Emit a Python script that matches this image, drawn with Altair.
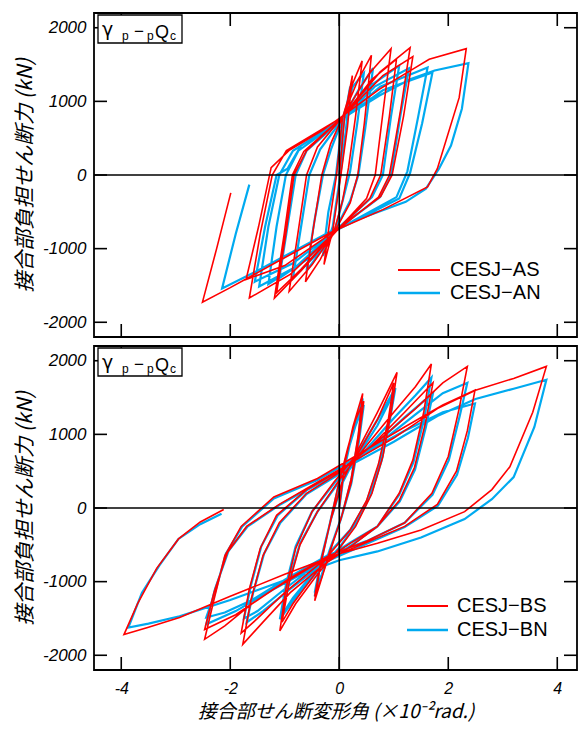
import altair as alt
import pandas as pd

# ---------------- data ----------------
X_TICKS = [-4, -2, 0, 2, 4]
Y_TICKS = [-2000, -1000, 0, 1000, 2000]

LEGEND_TOP = ["CESJ\u2212AS", "CESJ\u2212AN"]
LEGEND_BOTTOM = ["CESJ\u2212BS", "CESJ\u2212BN"]

# top panel, red (CESJ-AS)
AS_x = [0, 0.10, 0.24, 0.15, 0.03, -0.12, -0.28, -0.17, -0.05, 0.06, 0.25, 0.42,
        0.30, 0.17, 0.06, -0.10, -0.35, -0.62, -0.47, -0.32, -0.16, 0.06, 0.35, 0.59,
        0.46, 0.34, 0.20, -0.10, -0.50, -0.92, -0.76, -0.60, -0.40, 0.06, 0.55, 0.95,
        0.81, 0.66, 0.50, -0.10, -0.70, -1.19, -1.01, -0.86, -0.65, 0.06, 0.60, 1.05,
        0.92, 0.76, 0.56, -0.10, -0.70, -1.15, -0.98, -0.83, -0.60, 0.06, 0.75, 1.30,
        1.13, 0.92, 0.72, -0.10, -0.90, -1.65, -1.45, -1.23, -0.97, 0.06, 0.80, 1.35,
        1.18, 0.97, 0.76, -0.12, -1.00, -1.71, -1.48, -1.25, -0.91, -0.32, 0.07, 0.74,
        1.35, 1.65, 2.33, 2.20, 1.80, 1.62, 0.80, -0.13, -1.23, -2.00, -2.51, -2.25, -1.99]
AS_F = [0, 800, 1350, 650, 0, -760, -1216, -600, 0, 780, 1250, 1550,
        800, 100, -350, -780, -1150, -1450, -700, 0, 420, 790, 1300, 1626,
        700, 0, -380, -790, -1220, -1581, -800, 0, 380, 790, 1380, 1716,
        900, 0, -320, -800, -1300, -1671, -800, 0, 320, 790, 1300, 1572,
        800, 0, -320, -790, -1280, -1600, -800, 0, 330, 790, 1400, 1730,
        900, 0, -300, -790, -1350, -1671, -800, 0, 330, 790, 1350, 1608,
        800, 0, -290, -780, -1230, -1420, -700, 100, 340, 600, 806, 1166,
        1437, 1572, 1716, 1050, 85, -162, -470, -770, -1216, -1530, -1726, -1000, -243]

# top panel, blue (CESJ-AN)
AN_x = [0, 0.08, 0.20, 0.12, 0.02, -0.12, -0.30, -0.20, -0.06, 0.06, 0.25, 0.45,
        0.33, 0.20, 0.08, -0.08, -0.35, -0.60, -0.45, -0.30, -0.15, 0.06, 0.35, 0.62,
        0.48, 0.35, 0.20, -0.08, -0.45, -0.85, -0.70, -0.55, -0.35, 0.06, 0.55, 1.10,
        0.95, 0.80, 0.60, -0.08, -0.60, -1.10, -0.95, -0.80, -0.60, 0.06, 0.65, 1.28,
        1.12, 0.95, 0.75, -0.08, -0.70, -1.30, -1.15, -0.98, -0.75, 0.06, 0.75, 1.62,
        1.45, 1.25, 1.05, -0.08, -0.80, -1.47, -1.30, -1.10, -0.85, 0.06, 0.80, 1.71,
        1.52, 1.30, 1.10, -0.08, -0.85, -1.55, -1.36, -1.15, -0.95, -0.70, -0.24, 0.06,
        0.73, 1.30, 1.75, 2.37, 2.25, 2.05, 1.83, 1.59, 1.22, 0.50, -0.06, -0.80,
        -1.50, -2.15, -1.90, -1.65]
AN_F = [0, 700, 1200, 600, 0, -700, -1100, -500, 0, 760, 1200, 1380,
        700, 50, -300, -750, -1050, -1300, -600, 0, 350, 760, 1150, 1450,
        650, 0, -350, -750, -1100, -1400, -700, 0, 350, 760, 1200, 1486,
        800, 0, -300, -760, -1150, -1401, -700, 0, 330, 760, 1200, 1450,
        800, 0, -300, -760, -1200, -1480, -700, 0, 330, 760, 1200, 1459,
        800, 50, -300, -760, -1250, -1514, -700, 0, 330, 760, 1150, 1392,
        700, 30, -320, -760, -1200, -1450, -700, 0, 85, 400, 620, 770,
        1077, 1300, 1420, 1518, 900, 400, 85, -185, -365, -560, -725, -1020,
        -1300, -1540, -800, -131]

# bottom panel, red (CESJ-BS)
BS_x = [0, 0.10, 0.25, 0.43,
        0.35, 0.22, 0.05, -0.15, -0.30, -0.45,
        -0.35, -0.20, -0.02, 0.15, 0.30, 0.45,
        0.36, 0.22, 0.03, -0.18, -0.32, -0.45,
        -0.33, -0.15, 0.05, 0.35, 0.70, 1.06,
        0.95, 0.80, 0.60, 0.30, 0.00, -0.40, -0.80, -1.09,
        -0.98, -0.80, -0.50, -0.10, 0.35, 0.70, 1.00,
        0.90, 0.72, 0.50, 0.20, -0.15, -0.55, -0.85, -1.05,
        -0.93, -0.72, -0.40, 0.00, 0.50, 1.00, 1.40, 1.69,
        1.55, 1.35, 1.10, 0.70, 0.25, -0.30, -0.90, -1.40, -1.77,
        -1.62, -1.40, -1.10, -0.60, 0.00, 0.60, 1.20, 1.72,
        1.58, 1.38, 1.10, 0.70, 0.20, -0.40, -1.00, -1.50, -1.80,
        -1.65, -1.45, -1.15, -0.60, 0.00, 0.70, 1.40, 1.90, 2.35,
        2.20, 2.00, 1.70, 1.20, 0.50, -0.20, -0.90, -1.60, -2.10, -2.47,
        -2.30, -2.10, -1.80, -1.20, -0.40, 0.40, 1.20, 1.90, 2.49,
        2.35, 2.15, 1.80, 1.20, 0.40, -0.40, -1.20, -1.90, -2.47,
        -2.30, -2.05, -1.70, -1.10, -0.40, 0.30, 1.00, 1.80, 2.50, 3.20, 3.80,
        3.55, 3.13, 2.80, 2.30, 1.50, 0.70, 0.00, -1.00, -2.00, -2.93, -3.50, -3.95,
        -3.70, -3.35, -2.95, -2.55, -2.12]
BS_F = [0, 600, 1100, 1555,
        1000, 400, -100, -550, -900, -1260,
        -800, -300, 300, 800, 1200, 1450,
        950, 350, -150, -600, -950, -1200,
        -700, -150, 350, 800, 1300, 1841,
        1300, 700, 200, -250, -550, -900, -1300, -1669,
        -1100, -550, -50, 350, 750, 1200, 1700,
        1200, 600, 100, -300, -600, -1000, -1300, -1550,
        -1050, -500, -50, 380, 850, 1300, 1650, 1956,
        1300, 650, 200, -250, -500, -780, -1150, -1550, -1851,
        -1250, -650, -200, 200, 480, 850, 1300, 1700,
        1150, 550, 100, -250, -480, -780, -1150, -1500, -1700,
        -1100, -550, -100, 250, 500, 900, 1350, 1700, 1923,
        1350, 700, 200, -200, -450, -650, -950, -1300, -1600, -1783,
        -1250, -650, -250, 150, 400, 750, 1100, 1400, 1600,
        1050, 500, 50, -250, -500, -750, -1100, -1450, -1650,
        -1150, -600, -250, 50, 350, 650, 950, 1350, 1600, 1760, 1923,
        1300, 560, 250, -50, -300, -480, -620, -900, -1200, -1487, -1620, -1719,
        -1300, -820, -420, -190, -20]

# bottom panel, blue (CESJ-BN)
BN_x = [0, 0.10, 0.25, 0.43,
        0.35, 0.22, 0.05, -0.15, -0.30, -0.45,
        -0.35, -0.20, -0.02, 0.15, 0.30, 0.45,
        0.36, 0.22, 0.03, -0.18, -0.32, -0.45,
        -0.33, -0.15, 0.05, 0.35, 0.70, 1.03,
        0.93, 0.78, 0.58, 0.28, 0.00, -0.40, -0.80, -1.09,
        -0.98, -0.80, -0.50, -0.10, 0.35, 0.70, 1.00,
        0.90, 0.72, 0.50, 0.20, -0.15, -0.55, -0.85, -1.05,
        -0.93, -0.72, -0.40, 0.00, 0.50, 1.00, 1.40, 1.69,
        1.56, 1.36, 1.10, 0.70, 0.25, -0.30, -0.90, -1.40, -1.70,
        -1.58, -1.38, -1.08, -0.60, 0.00, 0.60, 1.20, 1.72,
        1.59, 1.39, 1.11, 0.70, 0.20, -0.40, -1.00, -1.50, -1.75,
        -1.62, -1.43, -1.13, -0.60, 0.00, 0.70, 1.40, 1.90, 2.35,
        2.21, 2.01, 1.71, 1.20, 0.50, -0.20, -0.90, -1.60, -2.10, -2.44,
        -2.28, -2.08, -1.78, -1.20, -0.40, 0.40, 1.20, 1.90, 2.49,
        2.36, 2.16, 1.81, 1.20, 0.40, -0.40, -1.20, -1.90, -2.44,
        -2.28, -2.03, -1.68, -1.10, -0.40, 0.30, 1.00, 1.80, 2.50, 3.20, 3.80,
        3.58, 3.20, 2.80, 2.30, 1.50, 0.70, 0.00, -1.00, -2.00, -2.93, -3.50, -3.87,
        -3.62, -3.30, -2.95, -2.55, -2.16]
BN_F = [0, 550, 1050, 1490,
        950, 380, -100, -520, -870, -1200,
        -780, -300, 280, 750, 1120, 1400,
        900, 330, -150, -580, -900, -1150,
        -680, -150, 330, 760, 1200, 1630,
        1200, 650, 180, -250, -540, -860, -1220, -1510,
        -1050, -520, -50, 330, 720, 1120, 1560,
        1130, 560, 80, -300, -580, -950, -1220, -1450,
        -1000, -480, -50, 360, 800, 1220, 1530, 1770,
        1220, 620, 180, -250, -490, -760, -1100, -1400, -1555,
        -1150, -620, -200, 190, 460, 820, 1230, 1560,
        1100, 520, 90, -250, -470, -760, -1100, -1400, -1500,
        -1050, -520, -100, 240, 480, 860, 1270, 1560, 1700,
        1250, 650, 180, -200, -450, -640, -930, -1250, -1420, -1487,
        -1150, -620, -250, 130, 380, 720, 1050, 1300, 1420,
        950, 450, 30, -260, -520, -780, -1100, -1400, -1580,
        -1100, -580, -250, 40, 330, 620, 900, 1250, 1480, 1620, 1742,
        1100, 420, 120, -150, -400, -590, -710, -980, -1250, -1470, -1570, -1623,
        -1150, -780, -420, -220, -77]

# ---------------- styling ----------------
RED = "#ff0000"
BLUE = "#00aaf0"
W, H = 483, 324
XD = [-4.5, 4.362]
YD = [-2200, 2200]
TICK = 13
LABEL_FONT = "Liberation Sans"
CJK_FONT = "Noto Sans CJK JP"
Y_TITLE = "接合部負担せん断力 (kN)"
X_TITLE = "接合部せん断変形角 (×10\u207b\u00b2rad.)"

xscale = alt.Scale(domain=XD, nice=False, zero=False)
yscale = alt.Scale(domain=YD, nice=False, zero=False)


def frame(xs, fs):
    return pd.DataFrame({"x": xs, "F": fs, "i": list(range(len(xs)))})


def panel(red_x, red_f, blue_x, blue_f, names, show_x, leg_pos):
    xaxis = alt.Axis(values=X_TICKS, ticks=False, tickSize=0, domain=False, grid=False,
                     labels=show_x, labelExpr="'' + datum.value", labelFont=LABEL_FONT,
                     labelFontStyle="italic", labelFontSize=16,
                     labelPadding=10 if show_x else 0,
                     labelColor="black", titleFont=CJK_FONT, titleFontStyle="italic",
                     titleFontWeight="normal", titleFontSize=19, titlePadding=6,
                     titleColor="black")
    yaxis = alt.Axis(values=Y_TICKS, ticks=False, tickSize=0, domain=False, grid=False,
                     labelExpr="'' + datum.value", labelFont=LABEL_FONT,
                     labelFontStyle="italic", labelFontSize=17, labelPadding=8,
                     labelColor="black", titleFont=CJK_FONT, titleFontStyle="italic",
                     titleFontWeight="normal", titleFontSize=21, titlePadding=7,
                     titleColor="black")
    xtitle = X_TITLE if show_x else None

    def X():
        return alt.X("x:Q", scale=xscale, axis=xaxis, title=xtitle)

    def Y():
        return alt.Y("F:Q", scale=yscale, axis=yaxis, title=Y_TITLE)

    blue = alt.Chart(frame(blue_x, blue_f)).mark_line(color=BLUE, strokeWidth=2.2).encode(
        x=X(), y=Y(), order="i:Q")
    red = alt.Chart(frame(red_x, red_f)).mark_line(color=RED, strokeWidth=1.6).encode(
        x=X(), y=Y(), order="i:Q")

    zx = alt.Chart(pd.DataFrame({"x": [0]})).mark_rule(color="black", strokeWidth=1.6).encode(
        x=X(), y=alt.value(0), y2=alt.value(H))
    zy = alt.Chart(pd.DataFrame({"F": [0]})).mark_rule(color="black", strokeWidth=1.6).encode(
        y=Y(), x=alt.value(0), x2=alt.value(W))

    xt = pd.DataFrame({"x": X_TICKS})
    yt = pd.DataFrame({"F": Y_TICKS})
    tb = alt.Chart(xt).mark_rule(color="black", strokeWidth=1.6).encode(
        x=X(), y=alt.value(H - TICK), y2=alt.value(H))
    tt = alt.Chart(xt).mark_rule(color="black", strokeWidth=1.6).encode(
        x=X(), y=alt.value(0), y2=alt.value(TICK))
    tl = alt.Chart(yt).mark_rule(color="black", strokeWidth=1.6).encode(
        y=Y(), x=alt.value(0), x2=alt.value(TICK))
    tr = alt.Chart(yt).mark_rule(color="black", strokeWidth=1.6).encode(
        y=Y(), x=alt.value(W - TICK), x2=alt.value(W))

    one = alt.Data(values=[{"k": 1}])
    # label box  γp − pQc
    box = alt.Chart(one).mark_rect(fill="white", stroke="black", strokeWidth=1.3).encode(
        x=alt.value(4), x2=alt.value(88), y=alt.value(2), y2=alt.value(30))

    def txt(s, x, y, size, font=LABEL_FONT):
        return alt.Chart(one).mark_text(text=s, font=font, fontSize=size, align="left",
                                        baseline="alphabetic", color="black").encode(
            x=alt.value(x), y=alt.value(y))

    label = [box,
             txt("γ", 8, 23, 19, "DejaVu Sans"),
             txt("p", 28, 27, 12),
             txt("\u2212", 40, 24, 17),
             txt("p", 53, 27, 12),
             txt("Q", 61, 25, 18),
             txt("c", 76, 27, 12)]

    # legend
    lx0, lx1, ltx, ly0, ly1 = leg_pos
    leg = []
    for name, col, yy, sw in zip(names, [RED, BLUE], [ly0, ly1], [1.8, 2.4]):
        leg.append(alt.Chart(one).mark_rule(color=col, strokeWidth=sw).encode(
            x=alt.value(lx0), x2=alt.value(lx1), y=alt.value(yy), y2=alt.value(yy)))
        leg.append(alt.Chart(one).mark_text(text=name, font=LABEL_FONT, fontSize=20,
                                            align="left", baseline="middle",
                                            color="black").encode(
            x=alt.value(ltx), y=alt.value(yy)))

    return alt.layer(blue, red, zx, zy, tb, tt, tl, tr, *label, *leg).properties(
        width=W, height=H)


top = panel(AS_x, AS_F, AN_x, AN_F, LEGEND_TOP, False, (304, 346, 356, 257, 280))
bottom = panel(BS_x, BS_F, BN_x, BN_F, LEGEND_BOTTOM, True, (313, 354, 363, 260, 284))

chart = alt.vconcat(top, bottom, spacing=5).properties(
    padding={"left": 5, "top": 3, "right": 0, "bottom": 0}
).configure(background="white").configure_view(stroke="black", strokeWidth=1.8)

chart.save("out.html", embed_options={"renderer": "svg", "actions": False})
